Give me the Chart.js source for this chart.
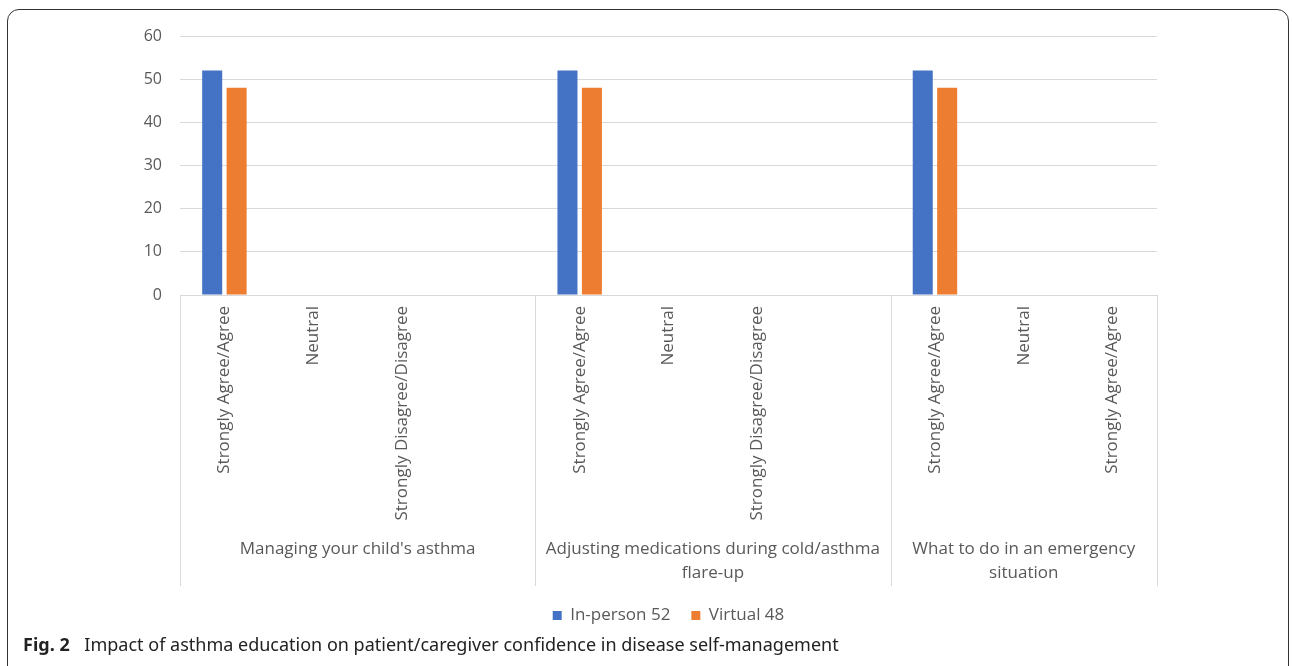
<!DOCTYPE html>
<html lang="en">
<head>
<meta charset="UTF-8" />
<title>Fig. 2</title>
<script src="https://cdn.jsdelivr.net/npm/chart.js"></script>
<style>
  body { margin: 0; background: #fff; width: 1292px; height: 666px; overflow: hidden; position: relative; }
  .frame {
    position: absolute; left: 7px; top: 9px; width: 1282px; height: 700px;
    border: 1.5px solid #333; border-radius: 12px; box-sizing: border-box;
  }
  .chartbox { position: absolute; left: 0; top: 0; width: 1292px; height: 634px; }
  .caption {
    position: absolute; left: 23px; top: 632px;
    font-family: 'Noto Sans', sans-serif; font-size: 18px; color: #222;
  }
  .caption b { margin-right: 10px; }
</style>
</head>
<body>
<div class="frame"></div>
<div class="chartbox"><canvas id="chart" width="1292" height="634"></canvas></div>
<div class="caption"><b>Fig. 2</b> Impact of asthma education on patient/caregiver confidence in disease self-management</div>
<script>
// categories (empty slot separates the groups, like in the original sheet)
const categories = [
  'Strongly Agree/Agree', 'Neutral', 'Strongly Disagree/Disagree', '',
  'Strongly Agree/Agree', 'Neutral', 'Strongly Disagree/Disagree', '',
  'Strongly Agree/Agree', 'Neutral', 'Strongly Agree/Agree'
];
const groupLabels = [
  ["Managing your child's asthma"],
  ['Adjusting medications during cold/asthma', 'flare-up'],
  ['What to do in an emergency', 'situation']
];
const groupSizes = [4, 4, 3];
const inPerson = [52, 0, 0, null, 52, 0, 0, null, 52, 0, 0];
const virtual  = [48, 0, 0, null, 48, 0, 0, null, 48, 0, 0];
const yTicks = [0, 10, 20, 30, 40, 50, 60];

const textColor = '#595959';
const gridColor = '#d9d9d9';

// group labels + separators under the category axis
const groupPlugin = {
  id: 'groups',
  afterDraw(chart) {
    const ctx = chart.ctx;
    const x = chart.scales.x;
    const area = chart.chartArea;
    const half = (x.getPixelForValue(1) - x.getPixelForValue(0)) / 2;
    const bottom = area.bottom + 291;
    ctx.save();
    ctx.strokeStyle = gridColor;
    ctx.lineWidth = 1;
    let start = 0;
    const edges = [x.getPixelForValue(0) - half];
    groupSizes.forEach(n => {
      edges.push(x.getPixelForValue(start + n - 1) + half);
      start += n;
    });
    edges.forEach(px => {
      ctx.beginPath();
      ctx.moveTo(Math.round(px) + 0.5, area.bottom);
      ctx.lineTo(Math.round(px) + 0.5, bottom);
      ctx.stroke();
    });
    ctx.fillStyle = textColor;
    ctx.font = '17px "Open Sans", sans-serif';
    ctx.textAlign = 'center';
    ctx.textBaseline = 'middle';
    groupLabels.forEach((lines, i) => {
      const cx = (edges[i] + edges[i + 1]) / 2;
      lines.forEach((t, j) => ctx.fillText(t, cx, area.bottom + 254 + j * 24));
    });
    ctx.restore();
  }
};

new Chart(document.getElementById('chart'), {
  type: 'bar',
  data: {
    labels: categories,
    datasets: [
      { label: 'In-person 52', data: inPerson, backgroundColor: '#4472c4' },
      { label: 'Virtual 48', data: virtual, backgroundColor: '#ed7d31' }
    ]
  },
  options: {
    responsive: false,
    animation: false,
    categoryPercentage: 0.55,
    barPercentage: 0.82,
    layout: { padding: { left: 100, right: 135, top: 36, bottom: 0 } },
    plugins: {
      tooltip: { enabled: false },
      legend: {
        position: 'bottom',
        fullSize: false,
        labels: {
          boxWidth: 9, boxHeight: 9, padding: 21,
          color: textColor,
          font: { family: 'Open Sans', size: 17 }
        }
      }
    },
    scales: {
      x: {
        grid: { display: false },
        border: { color: gridColor },
        ticks: {
          color: textColor, minRotation: 90, maxRotation: 90, padding: 3,
          autoSkip: false,
          font: { family: 'Open Sans', size: 17 }
        },
        afterFit(s) { s.height = 291; }
      },
      y: {
        min: 0, max: 60,
        afterBuildTicks(s) { s.ticks = yTicks.map(v => ({ value: v })); },
        grid: { color: gridColor, drawTicks: false },
        border: { display: false },
        ticks: {
          color: textColor, padding: 18,
          font: { family: 'Open Sans', size: 16 }
        },
        afterFit(s) { s.width = 80; }
      }
    }
  },
  plugins: [groupPlugin]
});
</script>
</body>
</html>
